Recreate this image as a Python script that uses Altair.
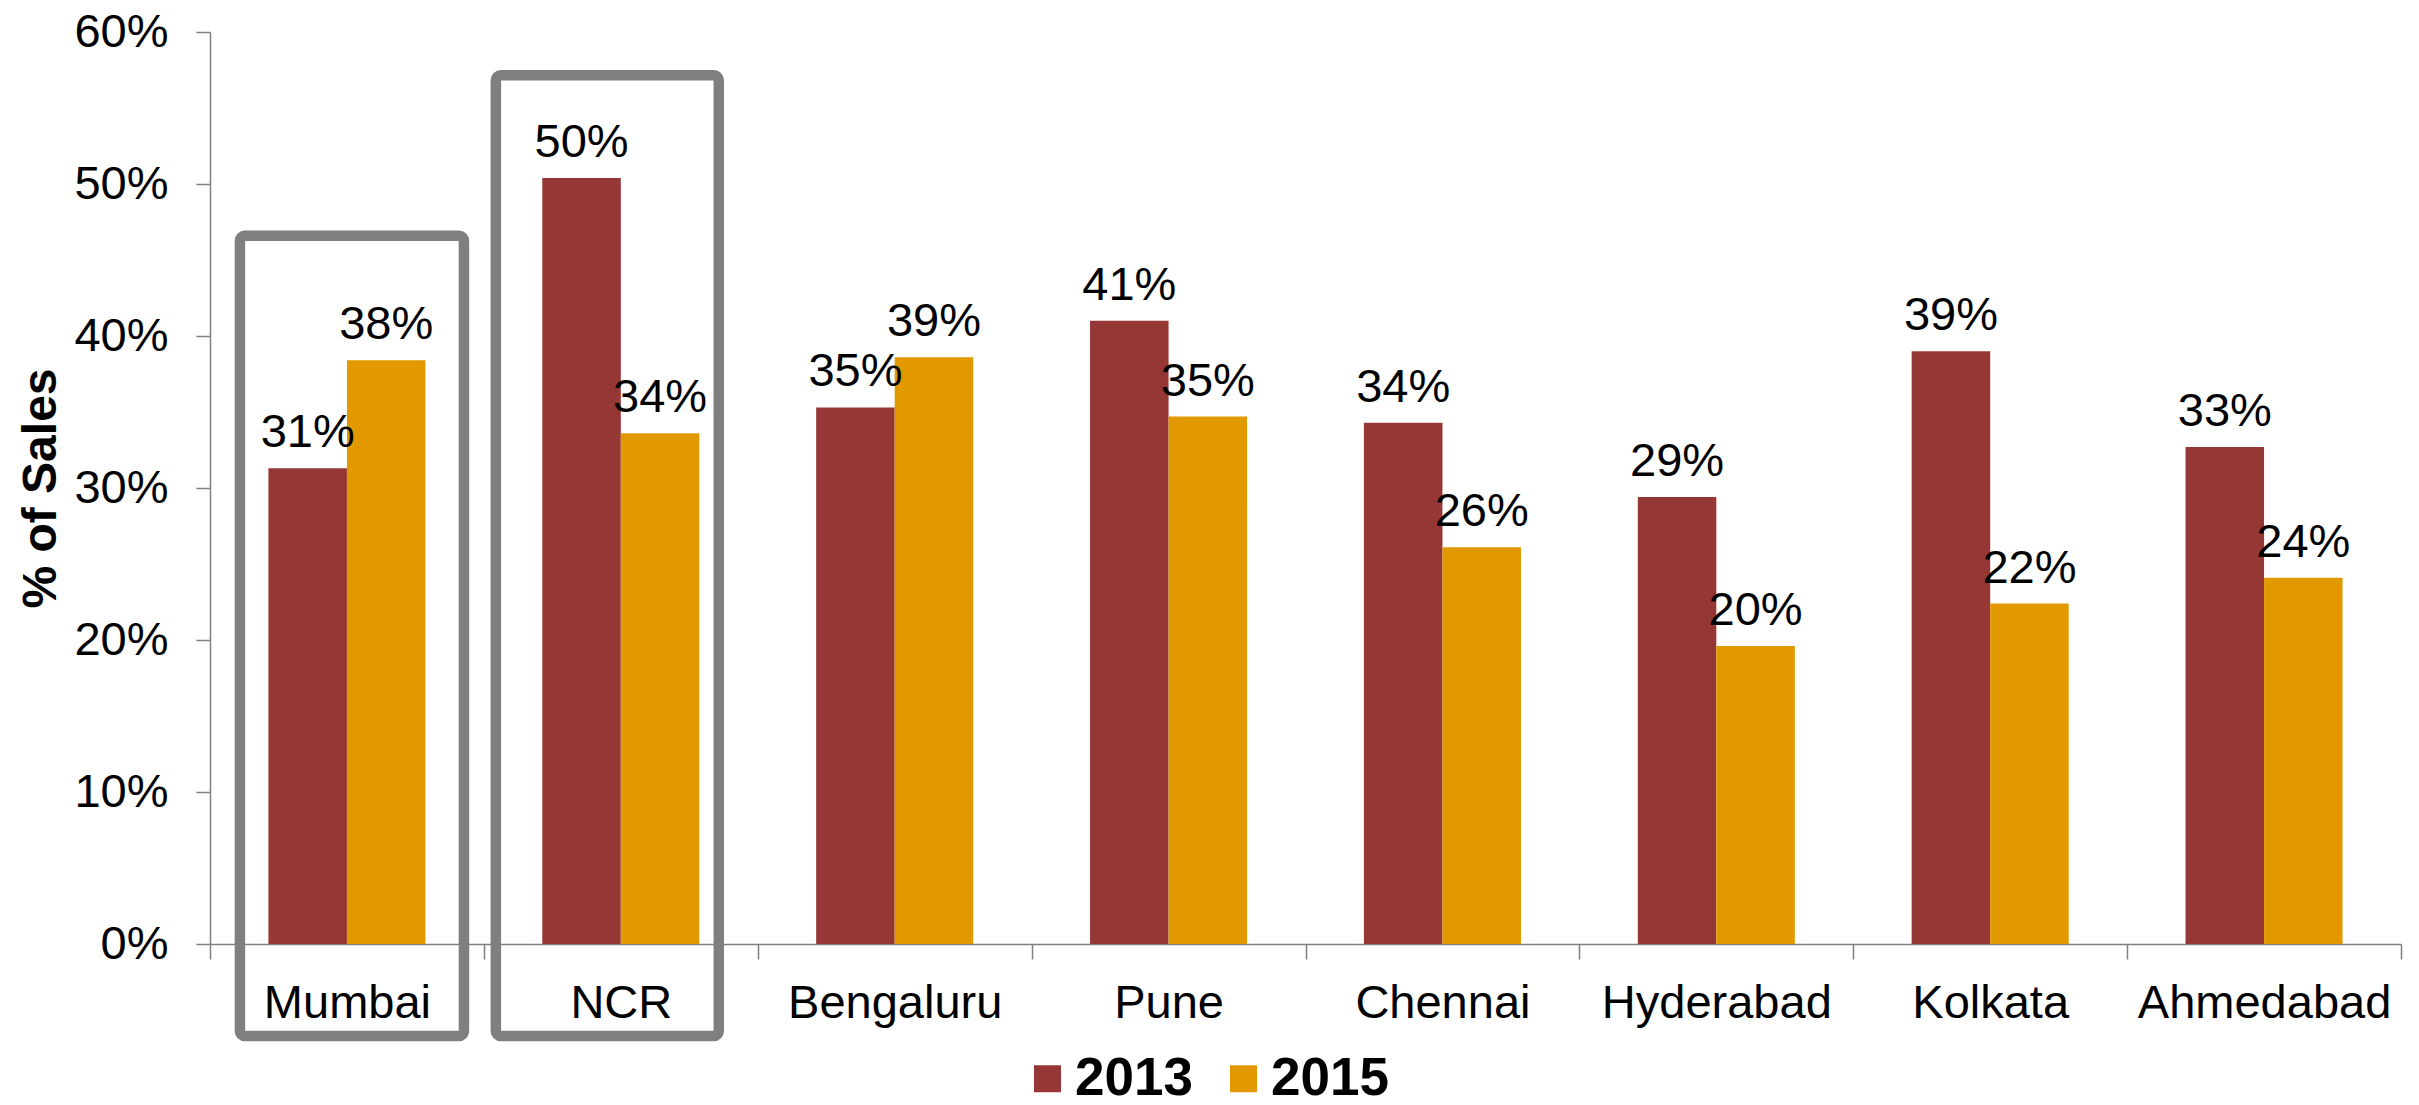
import altair as alt
import pandas as pd

# Share of sales by city, 2013 vs 2015
cities = ["Mumbai", "NCR", "Bengaluru", "Pune", "Chennai", "Hyderabad", "Kolkata", "Ahmedabad"]
years = ["2013", "2015"]
sales_2013 = [0.313, 0.504, 0.353, 0.410, 0.343, 0.294, 0.390, 0.327]
sales_2015 = [0.384, 0.336, 0.386, 0.347, 0.261, 0.196, 0.224, 0.241]
y_ticks = [0.0, 0.1, 0.2, 0.3, 0.4, 0.5, 0.6]

# Highlighted cities (framed boxes reaching below the category labels)
highlight_cities = ["Mumbai", "NCR"]
highlight_top = [0.466, 0.5715]
highlight_bottom = [-0.0606, -0.0606]

COLORS = ["#953735", "#E29900"]
FONT = "Liberation Sans"
GRAY = "#808080"
FS = 47

rows = []
for city, a, b in zip(cities, sales_2013, sales_2015):
    rows.append({"city": city, "year": "2013", "value": a})
    rows.append({"city": city, "year": "2015", "value": b})
df = pd.DataFrame(rows)

x_enc = alt.X(
    "city:N",
    sort=cities,
    scale=alt.Scale(domain=cities, paddingInner=0, paddingOuter=0),
    axis=alt.Axis(
        title=None,
        labelAngle=0,
        labelLimit=600,
        tickBand="extent",
        tickSize=15,
        tickWidth=1.5,
        tickColor=GRAY,
        domainColor=GRAY,
        domainWidth=1.5,
        labelFont=FONT,
        labelFontSize=FS,
        labelColor="black",
        labelPadding=21,
        grid=False,
    ),
)

xoff_enc = alt.XOffset(
    "year:N",
    scale=alt.Scale(domain=years, paddingInner=0, paddingOuter=0.744),
)

y_scale = alt.Scale(domain=[0, 0.6], nice=False, zero=True)
y_axis = alt.Axis(
    title="% of Sales",
    values=y_ticks,
    format=".0%",
    grid=False,
    tickSize=14,
    tickWidth=1.5,
    tickColor=GRAY,
    domainColor=GRAY,
    domainWidth=1.5,
    labelFont=FONT,
    labelFontSize=FS,
    labelColor="black",
    labelPadding=28,
    titleFont=FONT,
    titleFontSize=48,
    titleFontWeight="bold",
    titleColor="black",
    titleAngle=270,
    titleBaseline="alphabetic",
    titleX=-155,
    titleY=456,
)


def y_enc(field):
    return alt.Y(field, scale=y_scale, axis=y_axis)


bars = alt.Chart(df).mark_bar().encode(
    x=x_enc,
    xOffset=xoff_enc,
    y=y_enc("value:Q"),
    color=alt.Color(
        "year:N",
        scale=alt.Scale(domain=years, range=COLORS),
        legend=alt.Legend(
            title=None,
            orient="none",
            direction="horizontal",
            legendX=811,
            legendY=1020,
            symbolType="square",
            symbolSize=729,
            symbolStrokeWidth=0,
            labelFont=FONT,
            labelFontSize=53,
            labelFontWeight="bold",
            labelColor="black",
            labelOffset=1,
            labelLimit=400,
            columnPadding=24,
            padding=0,
        ),
    ),
)

labels = alt.Chart(df).mark_text(
    dy=-21, baseline="alphabetic", font=FONT, fontSize=FS, color="black"
).encode(
    x=x_enc,
    xOffset=xoff_enc,
    y=y_enc("value:Q"),
    text=alt.Text("value:Q", format=".0%"),
)

# Frame layout per highlighted city: relative band width and pixel shift
frame_style = {
    "Mumbai": {"band": 0.818, "shift": 5},
    "NCR": {"band": 0.814, "shift": -13.5},
}

frames = []
for city, top, bottom in zip(highlight_cities, highlight_top, highlight_bottom):
    st = frame_style[city]
    frame_df = pd.DataFrame({"city": [city], "value": [top], "value2": [bottom]})
    frames.append(
        alt.Chart(frame_df)
        .mark_bar(
            fill="transparent",
            stroke="#7F7F7F",
            strokeWidth=10.5,
            cornerRadius=5,
            width=alt.RelativeBandSize(band=st["band"]),
            xOffset=st["shift"],
        )
        .encode(x=x_enc, y=y_enc("value:Q"), y2="value2:Q")
    )

chart = (
    alt.layer(bars, labels, *frames)
    .properties(
        width=2191,
        height=912,
        autosize=alt.AutoSizeParams(type="none"),
        padding={"left": 210, "top": 32, "right": 18, "bottom": 161},
        background="white",
    )
    .configure_view(stroke="transparent")
)

chart.save("out.html", embed_options={"renderer": "svg", "actions": False})
